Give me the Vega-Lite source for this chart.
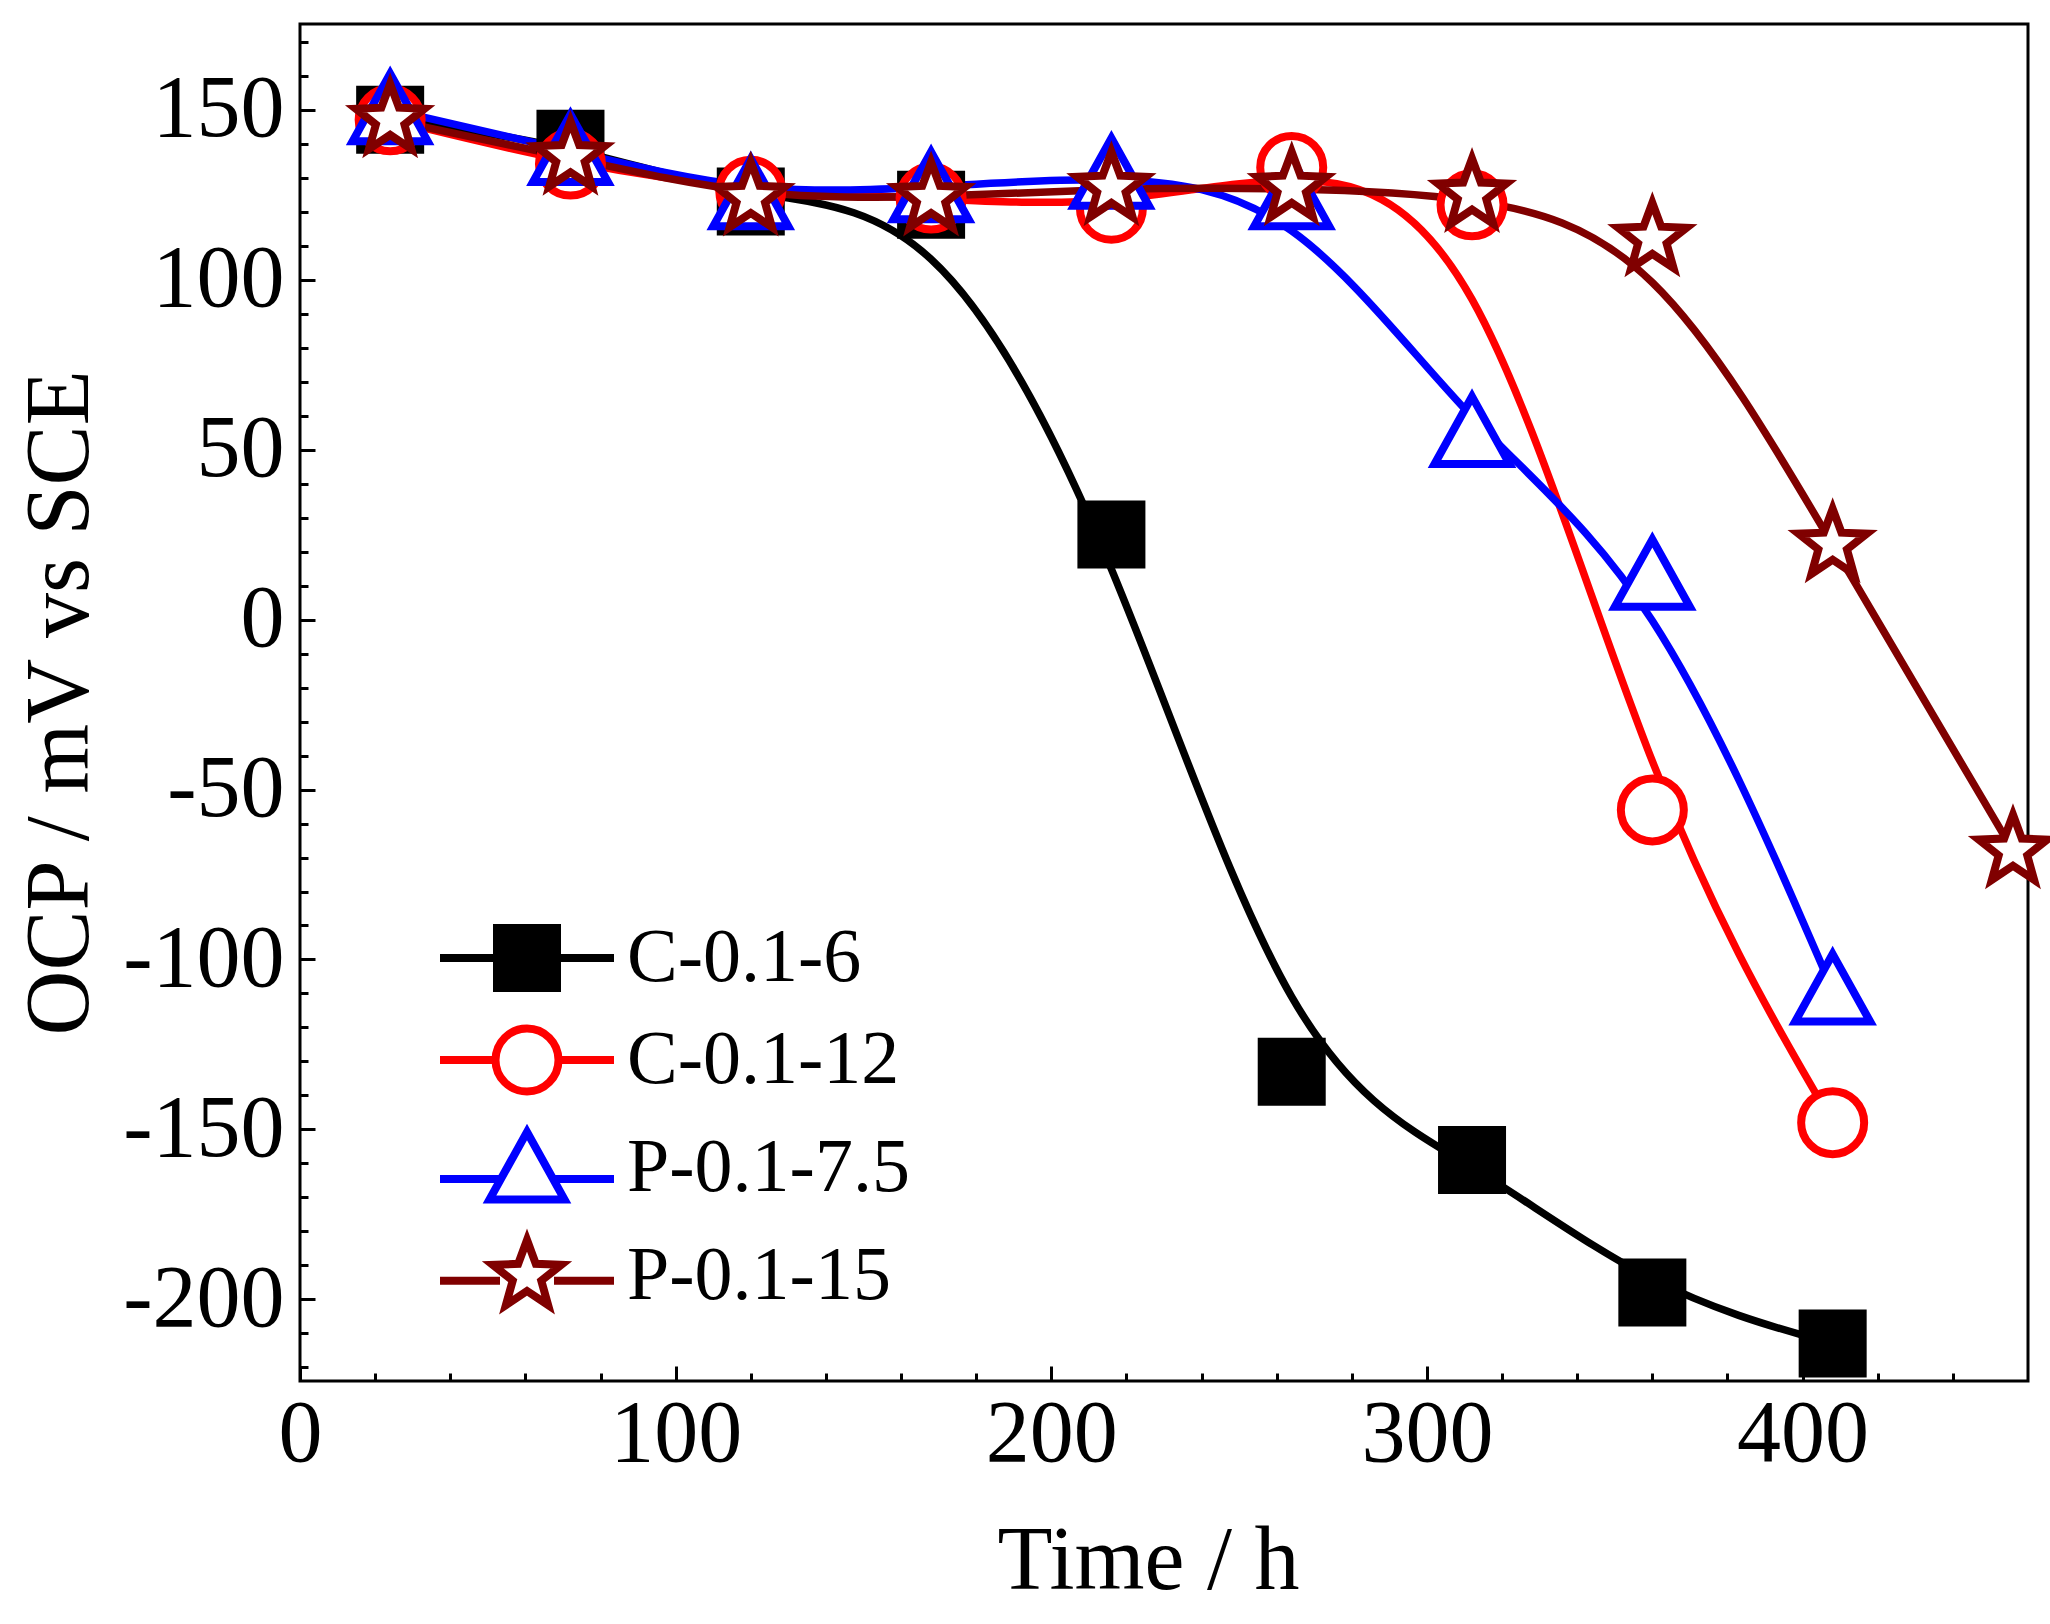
{
  "$schema": "https://vega.github.io/schema/vega-lite/v6.json",
  "autosize": {"type": "none"},
  "width": 1728,
  "height": 1357,
  "padding": {"left": 300, "top": 24, "right": 22, "bottom": 243},
  "config": {
    "font": "Liberation Serif",
    "view": {"stroke": "black", "strokeWidth": 3}
  },
  "data": {
    "values": [
      {"s": "C-0.1-6", "t": 24, "v": 147},
      {"s": "C-0.1-6", "t": 72, "v": 140},
      {"s": "C-0.1-6", "t": 120, "v": 123},
      {"s": "C-0.1-6", "t": 168, "v": 122},
      {"s": "C-0.1-6", "t": 216, "v": 25},
      {"s": "C-0.1-6", "t": 264, "v": -133},
      {"s": "C-0.1-6", "t": 312, "v": -159},
      {"s": "C-0.1-6", "t": 360, "v": -198},
      {"s": "C-0.1-6", "t": 408, "v": -213},
      {"s": "C-0.1-12", "t": 24, "v": 147},
      {"s": "C-0.1-12", "t": 72, "v": 134},
      {"s": "C-0.1-12", "t": 120, "v": 126},
      {"s": "C-0.1-12", "t": 168, "v": 124},
      {"s": "C-0.1-12", "t": 216, "v": 121},
      {"s": "C-0.1-12", "t": 264, "v": 133},
      {"s": "C-0.1-12", "t": 312, "v": 122},
      {"s": "C-0.1-12", "t": 360, "v": -56},
      {"s": "C-0.1-12", "t": 408, "v": -148},
      {"s": "P-0.1-7.5", "t": 24, "v": 150},
      {"s": "P-0.1-7.5", "t": 72, "v": 138},
      {"s": "P-0.1-7.5", "t": 120, "v": 125},
      {"s": "P-0.1-7.5", "t": 168, "v": 127},
      {"s": "P-0.1-7.5", "t": 216, "v": 131},
      {"s": "P-0.1-7.5", "t": 264, "v": 125},
      {"s": "P-0.1-7.5", "t": 312, "v": 55},
      {"s": "P-0.1-7.5", "t": 360, "v": 13},
      {"s": "P-0.1-7.5", "t": 408, "v": -109},
      {"s": "P-0.1-15", "t": 24, "v": 147},
      {"s": "P-0.1-15", "t": 72, "v": 136},
      {"s": "P-0.1-15", "t": 120, "v": 124},
      {"s": "P-0.1-15", "t": 168, "v": 124},
      {"s": "P-0.1-15", "t": 216, "v": 127},
      {"s": "P-0.1-15", "t": 264, "v": 127},
      {"s": "P-0.1-15", "t": 312, "v": 125},
      {"s": "P-0.1-15", "t": 360, "v": 112},
      {"s": "P-0.1-15", "t": 408, "v": 22},
      {"s": "P-0.1-15", "t": 456, "v": -68}
    ]
  },
  "encoding": {
    "x": {
      "field": "t",
      "type": "quantitative",
      "title": "Time / h",
      "scale": {"domain": [0, 460], "nice": false, "zero": false},
      "axis": {
        "values": [0, 20, 40, 60, 80, 100, 120, 140, 160, 180, 200, 220, 240, 260, 280, 300, 320, 340, 360, 380, 400, 420, 440],
        "labelExpr": "datum.value % 100 === 0 ? '' + datum.value : ''",
        "labelOverlap": false,
        "labelFlush": false,
        "grid": false,
        "domain": false,
        "tickColor": "black",
        "tickWidth": 3,
        "tickSize": {"condition": {"test": "datum.value % 100 === 0", "value": -15}, "value": -8},
        "labelFontSize": 88,
        "labelColor": "black",
        "labelPadding": 24,
        "titleFontSize": 90,
        "titleFontWeight": "normal",
        "titleColor": "black",
        "titlePadding": 32,
        "titleX": 848
      }
    },
    "y": {
      "field": "v",
      "type": "quantitative",
      "title": "OCP / mV vs SCE",
      "scale": {"domain": [-224, 175.2], "nice": false, "zero": false},
      "axis": {
        "values": [-220, -210, -200, -190, -180, -170, -160, -150, -140, -130, -120, -110, -100, -90, -80, -70, -60, -50, -40, -30, -20, -10, 0, 10, 20, 30, 40, 50, 60, 70, 80, 90, 100, 110, 120, 130, 140, 150, 160, 170],
        "labelExpr": "datum.value % 50 === 0 ? '' + datum.value : ''",
        "labelOverlap": false,
        "labelFlush": false,
        "grid": false,
        "domain": false,
        "tickColor": "black",
        "tickWidth": 3,
        "tickSize": {"condition": {"test": "datum.value % 50 === 0", "value": -15}, "value": -8},
        "labelFontSize": 88,
        "labelColor": "black",
        "labelPadding": 31,
        "titleFontSize": 90,
        "titleFontWeight": "normal",
        "titleColor": "black",
        "titlePadding": 16
      }
    }
  },
  "layer": [
    {
      "mark": {"type": "line", "interpolate": "basis", "strokeWidth": 7.5},
      "encoding": {
        "stroke": {
          "field": "s",
          "type": "nominal",
          "scale": {"domain": ["C-0.1-6", "C-0.1-12", "P-0.1-7.5", "P-0.1-15"], "range": ["#000000", "#ff0000", "#0000ff", "#800000"]},
          "legend": null
        }
      }
    },
    {
      "mark": {"type": "point", "filled": true, "opacity": 1, "size": 3600, "strokeWidth": 8},
      "encoding": {
        "shape": {
          "field": "s",
          "type": "nominal",
          "scale": {
            "domain": ["C-0.1-6", "C-0.1-12", "P-0.1-7.5", "P-0.1-15"],
            "range": [
              "M-1,-1L1,-1L1,1L-1,1Z",
              "M-1.05,0A1.05,1.05,0,1,1,1.05,0A1.05,1.05,0,1,1,-1.05,0Z",
              "M0,-1.2L1.25,1.05L-1.25,1.05Z",
              "M0,-1.2L0.294,-0.405L1.141,-0.371L0.476,0.155L0.705,0.971L0,0.5L-0.705,0.971L-0.476,0.155L-1.141,-0.371L-0.294,-0.405Z"
            ]
          },
          "legend": null
        },
        "stroke": {
          "field": "s",
          "type": "nominal",
          "scale": {"domain": ["C-0.1-6", "C-0.1-12", "P-0.1-7.5", "P-0.1-15"], "range": ["#000000", "#ff0000", "#0000ff", "#800000"]},
          "legend": null
        },
        "fill": {
          "field": "s",
          "type": "nominal",
          "scale": {"domain": ["C-0.1-6", "C-0.1-12", "P-0.1-7.5", "P-0.1-15"], "range": ["#000000", "#ffffff", "#ffffff", "#ffffff"]},
          "legend": null
        }
      }
    },
    {
      "transform": [{"filter": "false"}],
      "mark": {"type": "point", "filled": true, "opacity": 1, "size": 3600, "strokeWidth": 8},
      "encoding": {
        "shape": {
          "field": "s",
          "type": "nominal",
          "scale": {
            "domain": ["C-0.1-6", "C-0.1-12", "P-0.1-7.5", "P-0.1-15"],
            "range": [
              "M-2.9,0L-1,0M1,0L2.9,0M-1,-1L1,-1L1,1L-1,1Z",
              "M-2.9,0L-1.05,0M1.05,0L2.9,0M-1.05,0A1.05,1.05,0,1,1,1.05,0A1.05,1.05,0,1,1,-1.05,0Z",
              "M-2.9,0.37L-0.87,0.37M0.87,0.37L2.9,0.37M0,-1.2L1.25,1.05L-1.25,1.05Z",
              "M-2.9,0.16L-0.9,0.16M0.9,0.16L2.9,0.16M0,-1.2L0.294,-0.405L1.141,-0.371L0.476,0.155L0.705,0.971L0,0.5L-0.705,0.971L-0.476,0.155L-1.141,-0.371L-0.294,-0.405Z"
            ]
          },
          "legend": {"orient": "none", "legendX": 189, "legendY": 896, "title": null, "padding": 0, "symbolSize": 3600, "symbolStrokeWidth": 8, "labelFont": "Liberation Serif", "labelFontSize": 76, "labelColor": "black", "labelLimit": 0, "labelOffset": 62, "rowPadding": 8}
        },
        "stroke": {
          "field": "s",
          "type": "nominal",
          "scale": {"domain": ["C-0.1-6", "C-0.1-12", "P-0.1-7.5", "P-0.1-15"], "range": ["#000000", "#ff0000", "#0000ff", "#800000"]},
          "legend": {"orient": "none", "legendX": 189, "legendY": 896, "title": null, "padding": 0, "symbolSize": 3600, "symbolStrokeWidth": 8, "labelFont": "Liberation Serif", "labelFontSize": 76, "labelColor": "black", "labelLimit": 0, "labelOffset": 62, "rowPadding": 8}
        },
        "fill": {
          "field": "s",
          "type": "nominal",
          "scale": {"domain": ["C-0.1-6", "C-0.1-12", "P-0.1-7.5", "P-0.1-15"], "range": ["#000000", "#ffffff", "#ffffff", "#ffffff"]},
          "legend": {"orient": "none", "legendX": 189, "legendY": 896, "title": null, "padding": 0, "symbolSize": 3600, "symbolStrokeWidth": 8, "labelFont": "Liberation Serif", "labelFontSize": 76, "labelColor": "black", "labelLimit": 0, "labelOffset": 62, "rowPadding": 8}
        }
      }
    }
  ],
  "resolve": {"scale": {"stroke": "independent", "fill": "independent", "shape": "independent"}}
}
